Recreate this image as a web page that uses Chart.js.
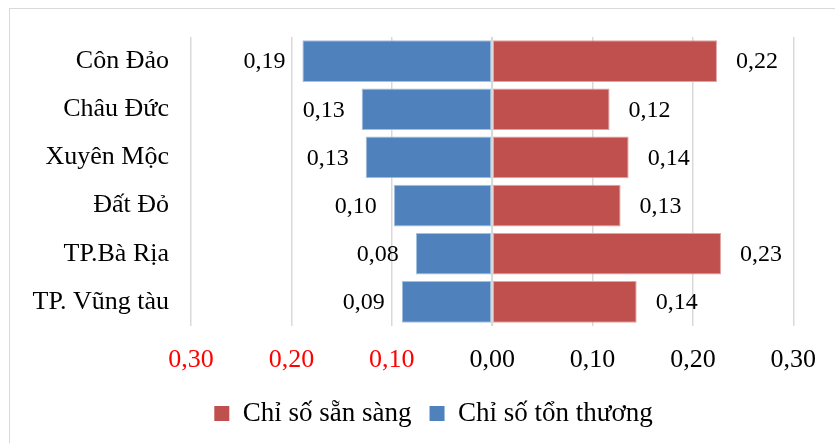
<!DOCTYPE html>
<html><head><meta charset="utf-8">
<script src="https://cdn.jsdelivr.net/npm/chart.js@4"></script>
<style>
html,body{margin:0;padding:0;background:#fff;overflow:hidden}
#wrap{position:relative;width:835px;height:443px}
#frame{position:absolute;left:9px;top:8px;width:900px;height:500px;border:1px solid #d9d9d9;box-sizing:border-box}
canvas{position:absolute;left:0;top:0}
</style></head><body>
<div id="wrap"><div id="frame"></div><canvas id="c" width="835" height="443"></canvas></div>
<script>
const categories = ['Côn Đảo','Châu Đức','Xuyên Mộc','Đất Đỏ','TP.Bà Rịa','TP. Vũng tàu'];
const readiness = [0.224,0.117,0.136,0.128,0.228,0.144];
const vulnerability = [-0.189,-0.130,-0.126,-0.098,-0.076,-0.090];
const seriesNames = ['Chỉ số sẵn sàng','Chỉ số tổn thương'];
const xTicks = [-0.3,-0.2,-0.1,0,0.1,0.2,0.3];

const FONT = '"Liberation Serif","Times New Roman",serif';
Chart.defaults.font.family = FONT;
Chart.defaults.color = '#000';

const fmt = v => Math.abs(v).toFixed(2).replace('.', ',');

const legendShift = {
  id: 'legendShift',
  afterLayout(chart) {
    if (chart.legend) { chart.legend.left += 35; chart.legend.right += 35; }
  }
};

const valueLabels = {
  id: 'valueLabels',
  afterDatasetsDraw(chart) {
    const ctx = chart.ctx;
    const xs = chart.scales.x;
    const x0 = xs.getPixelForValue(0);
    ctx.save();
    ctx.strokeStyle = '#d9d9d9';
    ctx.lineWidth = 2;
    ctx.beginPath();
    ctx.moveTo(x0, chart.chartArea.top);
    ctx.lineTo(x0, chart.chartArea.bottom);
    ctx.stroke();
    ctx.font = '24px ' + FONT;
    ctx.fillStyle = '#000';
    ctx.textBaseline = 'middle';
    chart.data.datasets.forEach((ds, i) => {
      const meta = chart.getDatasetMeta(i);
      meta.data.forEach((el, j) => {
        const v = ds.data[j];
        const t = fmt(v);
        if (v >= 0) { ctx.textAlign = 'left'; ctx.fillText(t, el.x + 19, el.y + 1); }
        else { ctx.textAlign = 'right'; ctx.fillText(t, el.x - 17, el.y + 1); }
      });
    });
    ctx.restore();
  }
};

new Chart(document.getElementById('c'), {
  type: 'bar',
  data: {
    labels: categories,
    datasets: [
      { label: seriesNames[0], data: readiness, backgroundColor: '#C0504D', borderColor: '#DFA3A1', borderWidth: 1, borderSkipped: false, categoryPercentage: 1, barPercentage: 0.865 },
      { label: seriesNames[1], data: vulnerability, backgroundColor: '#4F81BD', borderColor: '#A7C0DE', borderWidth: 1, borderSkipped: false, categoryPercentage: 1, barPercentage: 0.865 }
    ]
  },
  options: {
    indexAxis: 'y',
    responsive: false,
    animation: false,
    layout: { padding: { left: 0, right: 38, top: 37, bottom: 6 } },
    scales: {
      y: {
        stacked: true,
        grid: { display: false },
        border: { display: false },
        ticks: { color: '#000', font: { size: 26 }, padding: 14 },
        afterFit(s) { s.width = 191; }
      },
      x: {
        stacked: true,
        min: -0.3, max: 0.3,
        afterBuildTicks(s) { s.ticks = xTicks.map(v => ({ value: v })); },
        grid: { color: '#d9d9d9', lineWidth: 1.5, drawTicks: false },
        border: { display: false },
        ticks: {
          padding: 19,
          font: { size: 26 },
          color: ctx => (ctx.tick && ctx.tick.value < 0) ? '#ff0000' : '#000',
          callback: v => fmt(v)
        },
        afterFit(s) { s.height = 56; }
      }
    },
    plugins: {
      legend: {
        position: 'bottom',
        labels: {
          boxWidth: 15, boxHeight: 15, padding: 18, color: '#000', font: { size: 27 },
          generateLabels(chart) {
            return Chart.defaults.plugins.legend.labels.generateLabels(chart).map(l => Object.assign(l, { lineWidth: 0 }));
          }
        }
      },
      tooltip: { enabled: false }
    }
  },
  plugins: [valueLabels, legendShift]
});
</script>
</body></html>
